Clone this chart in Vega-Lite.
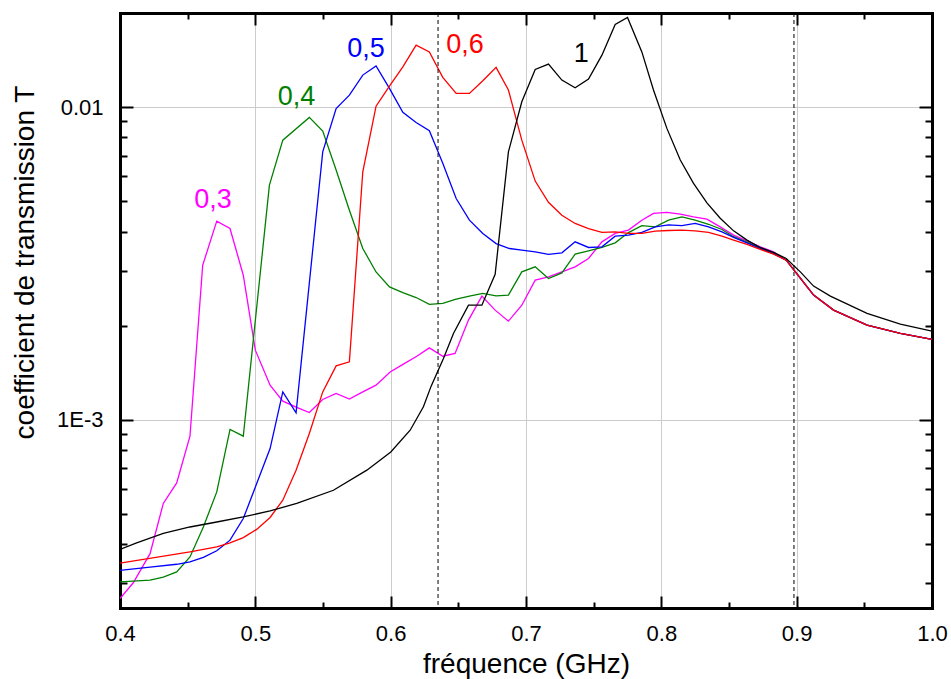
{
  "$schema": "https://vega.github.io/schema/vega-lite/v6.json",
  "width": 812,
  "height": 595,
  "autosize": "none",
  "padding": {"left": 120, "top": 13, "right": 19, "bottom": 71},
  "background": "white",
  "config": {
    "view": {"stroke": null},
    "font": "Liberation Sans",
    "axis": {
      "labelFont": "Liberation Sans",
      "titleFont": "Liberation Sans",
      "labelColor": "black",
      "titleColor": "black",
      "domainColor": "black",
      "domainWidth": 3,
      "domainCap": "square",
      "tickColor": "black",
      "tickWidth": 2,
      "gridColor": "#cccccc",
      "gridWidth": 1,
      "labelFlush": false,
      "labelOverlap": false,
      "titleFontWeight": "normal"
    }
  },
  "datasets": {
    "curves": [
      {"s":"0,3","f":0.4,"T":0.000268},{"s":"0,3","f":0.4098,"T":0.000301},{"s":"0,3","f":0.4222,"T":0.000373},{"s":"0,3","f":0.432,"T":0.00054},{"s":"0,3","f":0.4419,"T":0.000628},{"s":"0,3","f":0.4517,"T":0.000886},{"s":"0,3","f":0.4611,"T":0.00312},{"s":"0,3","f":0.4715,"T":0.00432},{"s":"0,3","f":0.4813,"T":0.00409},{"s":"0,3","f":0.4911,"T":0.0029},{"s":"0,3","f":0.5,"T":0.00167},{"s":"0,3","f":0.5109,"T":0.00129},{"s":"0,3","f":0.5203,"T":0.001147},{"s":"0,3","f":0.5306,"T":0.001095},{"s":"0,3","f":0.5399,"T":0.001055},{"s":"0,3","f":0.5498,"T":0.001161},{"s":"0,3","f":0.5597,"T":0.001214},{"s":"0,3","f":0.5695,"T":0.001164},{"s":"0,3","f":0.5794,"T":0.001228},{"s":"0,3","f":0.5892,"T":0.00129},{"s":"0,3","f":0.5996,"T":0.001422},{"s":"0,3","f":0.6094,"T":0.001506},{"s":"0,3","f":0.6193,"T":0.001597},{"s":"0,3","f":0.6286,"T":0.001698},{"s":"0,3","f":0.6385,"T":0.001597},{"s":"0,3","f":0.6476,"T":0.00163},{"s":"0,3","f":0.6575,"T":0.002083},{"s":"0,3","f":0.6674,"T":0.002486},{"s":"0,3","f":0.6772,"T":0.002242},{"s":"0,3","f":0.687,"T":0.002067},{"s":"0,3","f":0.6969,"T":0.002325},{"s":"0,3","f":0.7068,"T":0.002796},{"s":"0,3","f":0.7166,"T":0.002865},{"s":"0,3","f":0.7265,"T":0.002972},{"s":"0,3","f":0.7363,"T":0.003084},{"s":"0,3","f":0.7462,"T":0.003281},{"s":"0,3","f":0.7561,"T":0.003707},{"s":"0,3","f":0.7659,"T":0.003945},{"s":"0,3","f":0.7757,"T":0.004042},{"s":"0,3","f":0.7856,"T":0.004349},{"s":"0,3","f":0.7942,"T":0.004571},{"s":"0,3","f":0.8041,"T":0.004604},{"s":"0,3","f":0.814,"T":0.004546},{"s":"0,3","f":0.8238,"T":0.004457},{"s":"0,3","f":0.8337,"T":0.004382},{"s":"0,3","f":0.8435,"T":0.004139},{"s":"0,3","f":0.8534,"T":0.003896},{"s":"0,3","f":0.8633,"T":0.003736},{"s":"0,3","f":0.8731,"T":0.003574},{"s":"0,3","f":0.8829,"T":0.003445},{"s":"0,3","f":0.8923,"T":0.00324},{"s":"0,3","f":0.9027,"T":0.00284},{"s":"0,3","f":0.9125,"T":0.002504},{"s":"0,3","f":0.9273,"T":0.002242},{"s":"0,3","f":0.952,"T":0.002008},{"s":"0,3","f":0.9766,"T":0.001888},{"s":"0,3","f":1.0,"T":0.001807},

      {"s":"0,4","f":0.4,"T":0.000303},{"s":"0,4","f":0.4222,"T":0.000307},{"s":"0,4","f":0.432,"T":0.000314},{"s":"0,4","f":0.4419,"T":0.000326},{"s":"0,4","f":0.4517,"T":0.000364},{"s":"0,4","f":0.4616,"T":0.000454},{"s":"0,4","f":0.4715,"T":0.000588},{"s":"0,4","f":0.4813,"T":0.000931},{"s":"0,4","f":0.4911,"T":0.000886},{"s":"0,4","f":0.5104,"T":0.00563},{"s":"0,4","f":0.5203,"T":0.00784},{"s":"0,4","f":0.5399,"T":0.00927},{"s":"0,4","f":0.5498,"T":0.00838},{"s":"0,4","f":0.5597,"T":0.00629},{"s":"0,4","f":0.5695,"T":0.00468},{"s":"0,4","f":0.5794,"T":0.00353},{"s":"0,4","f":0.5892,"T":0.00297},{"s":"0,4","f":0.5991,"T":0.00266},{"s":"0,4","f":0.609,"T":0.00255},{"s":"0,4","f":0.6188,"T":0.00246},{"s":"0,4","f":0.6286,"T":0.00234},{"s":"0,4","f":0.6385,"T":0.002355},{"s":"0,4","f":0.6484,"T":0.00243},{"s":"0,4","f":0.6582,"T":0.002486},{"s":"0,4","f":0.6681,"T":0.002535},{"s":"0,4","f":0.6779,"T":0.00249},{"s":"0,4","f":0.687,"T":0.002504},{"s":"0,4","f":0.6969,"T":0.002972},{"s":"0,4","f":0.7068,"T":0.003084},{"s":"0,4","f":0.7166,"T":0.00283},{"s":"0,4","f":0.7265,"T":0.00295},{"s":"0,4","f":0.7363,"T":0.003386},{"s":"0,4","f":0.7462,"T":0.00347},{"s":"0,4","f":0.7561,"T":0.00356},{"s":"0,4","f":0.7659,"T":0.00368},{"s":"0,4","f":0.7757,"T":0.00397},{"s":"0,4","f":0.7856,"T":0.00418},{"s":"0,4","f":0.7955,"T":0.00414},{"s":"0,4","f":0.8053,"T":0.00435},{"s":"0,4","f":0.8152,"T":0.004457},{"s":"0,4","f":0.825,"T":0.00435},{"s":"0,4","f":0.8349,"T":0.00422},{"s":"0,4","f":0.8448,"T":0.00406},{"s":"0,4","f":0.8534,"T":0.00385},{"s":"0,4","f":0.8633,"T":0.0037},{"s":"0,4","f":0.8731,"T":0.00354},{"s":"0,4","f":0.8829,"T":0.00342},{"s":"0,4","f":0.8923,"T":0.00324},{"s":"0,4","f":0.9027,"T":0.00284},{"s":"0,4","f":0.9125,"T":0.002504},{"s":"0,4","f":0.9273,"T":0.002242},{"s":"0,4","f":0.952,"T":0.002008},{"s":"0,4","f":0.9766,"T":0.001888},{"s":"0,4","f":1.0,"T":0.001807},

      {"s":"0,5","f":0.4,"T":0.00033},{"s":"0,5","f":0.4222,"T":0.000338},{"s":"0,5","f":0.4419,"T":0.000345},{"s":"0,5","f":0.4517,"T":0.000351},{"s":"0,5","f":0.4616,"T":0.000363},{"s":"0,5","f":0.4715,"T":0.000381},{"s":"0,5","f":0.4813,"T":0.000412},{"s":"0,5","f":0.4911,"T":0.000483},{"s":"0,5","f":0.501,"T":0.000625},{"s":"0,5","f":0.5109,"T":0.000809},{"s":"0,5","f":0.5203,"T":0.001228},{"s":"0,5","f":0.5301,"T":0.001052},{"s":"0,5","f":0.5498,"T":0.00719},{"s":"0,5","f":0.5597,"T":0.0099},{"s":"0,5","f":0.5695,"T":0.01092},{"s":"0,5","f":0.5794,"T":0.01266},{"s":"0,5","f":0.5892,"T":0.01355},{"s":"0,5","f":0.5991,"T":0.01148},{"s":"0,5","f":0.609,"T":0.00962},{"s":"0,5","f":0.6188,"T":0.00893},{"s":"0,5","f":0.6286,"T":0.0084},{"s":"0,5","f":0.6385,"T":0.00661},{"s":"0,5","f":0.6484,"T":0.0051},{"s":"0,5","f":0.6582,"T":0.00435},{"s":"0,5","f":0.6681,"T":0.003945},{"s":"0,5","f":0.6779,"T":0.00366},{"s":"0,5","f":0.6878,"T":0.00353},{"s":"0,5","f":0.6969,"T":0.003487},{"s":"0,5","f":0.7068,"T":0.003445},{"s":"0,5","f":0.7166,"T":0.00338},{"s":"0,5","f":0.7265,"T":0.00342},{"s":"0,5","f":0.7363,"T":0.003707},{"s":"0,5","f":0.7462,"T":0.003557},{"s":"0,5","f":0.7561,"T":0.003574},{"s":"0,5","f":0.7659,"T":0.003867},{"s":"0,5","f":0.7757,"T":0.003896},{"s":"0,5","f":0.7856,"T":0.003974},{"s":"0,5","f":0.7955,"T":0.00414},{"s":"0,5","f":0.8053,"T":0.0042},{"s":"0,5","f":0.8152,"T":0.00418},{"s":"0,5","f":0.825,"T":0.004246},{"s":"0,5","f":0.8349,"T":0.00414},{"s":"0,5","f":0.8448,"T":0.00399},{"s":"0,5","f":0.8534,"T":0.00383},{"s":"0,5","f":0.8633,"T":0.00368},{"s":"0,5","f":0.8731,"T":0.00353},{"s":"0,5","f":0.8829,"T":0.0034},{"s":"0,5","f":0.8923,"T":0.00324},{"s":"0,5","f":0.9027,"T":0.00284},{"s":"0,5","f":0.9125,"T":0.002504},{"s":"0,5","f":0.9273,"T":0.002242},{"s":"0,5","f":0.952,"T":0.002008},{"s":"0,5","f":0.9766,"T":0.001888},{"s":"0,5","f":1.0,"T":0.001807},

      {"s":"0,6","f":0.4,"T":0.000348},{"s":"0,6","f":0.4517,"T":0.000378},{"s":"0,6","f":0.4715,"T":0.000392},{"s":"0,6","f":0.4813,"T":0.000404},{"s":"0,6","f":0.4911,"T":0.00042},{"s":"0,6","f":0.501,"T":0.000446},{"s":"0,6","f":0.5109,"T":0.000487},{"s":"0,6","f":0.5203,"T":0.000553},{"s":"0,6","f":0.5301,"T":0.00069},{"s":"0,6","f":0.5399,"T":0.000904},{"s":"0,6","f":0.5498,"T":0.001228},{"s":"0,6","f":0.5597,"T":0.001487},{"s":"0,6","f":0.5695,"T":0.001532},{"s":"0,6","f":0.5794,"T":0.00621},{"s":"0,6","f":0.5892,"T":0.01007},{"s":"0,6","f":0.5991,"T":0.01167},{"s":"0,6","f":0.609,"T":0.01345},{"s":"0,6","f":0.6188,"T":0.01579},{"s":"0,6","f":0.6286,"T":0.01502},{"s":"0,6","f":0.6385,"T":0.01245},{"s":"0,6","f":0.6484,"T":0.01106},{"s":"0,6","f":0.6582,"T":0.01106},{"s":"0,6","f":0.6681,"T":0.01214},{"s":"0,6","f":0.6779,"T":0.0134},{"s":"0,6","f":0.687,"T":0.01134},{"s":"0,6","f":0.6969,"T":0.00784},{"s":"0,6","f":0.7068,"T":0.0058},{"s":"0,6","f":0.7166,"T":0.00496},{"s":"0,6","f":0.7265,"T":0.00451},{"s":"0,6","f":0.7363,"T":0.004246},{"s":"0,6","f":0.7462,"T":0.00409},{"s":"0,6","f":0.7561,"T":0.003974},{"s":"0,6","f":0.7659,"T":0.00399},{"s":"0,6","f":0.7757,"T":0.003945},{"s":"0,6","f":0.7856,"T":0.003945},{"s":"0,6","f":0.7955,"T":0.00401},{"s":"0,6","f":0.8053,"T":0.00403},{"s":"0,6","f":0.8152,"T":0.004042},{"s":"0,6","f":0.825,"T":0.00402},{"s":"0,6","f":0.8349,"T":0.003974},{"s":"0,6","f":0.8448,"T":0.003867},{"s":"0,6","f":0.8534,"T":0.003755},{"s":"0,6","f":0.8633,"T":0.003637},{"s":"0,6","f":0.8731,"T":0.003506},{"s":"0,6","f":0.8829,"T":0.003387},{"s":"0,6","f":0.8923,"T":0.00324},{"s":"0,6","f":0.9027,"T":0.00284},{"s":"0,6","f":0.9125,"T":0.002504},{"s":"0,6","f":0.9273,"T":0.002242},{"s":"0,6","f":0.952,"T":0.002008},{"s":"0,6","f":0.9766,"T":0.001888},{"s":"0,6","f":1.0,"T":0.001807},

      {"s":"1","f":0.4,"T":0.000385},{"s":"1","f":0.4123,"T":0.000404},{"s":"1","f":0.432,"T":0.000433},{"s":"1","f":0.4517,"T":0.000454},{"s":"1","f":0.4715,"T":0.000471},{"s":"1","f":0.4911,"T":0.000489},{"s":"1","f":0.5109,"T":0.000511},{"s":"1","f":0.5306,"T":0.00054},{"s":"1","f":0.5577,"T":0.000595},{"s":"1","f":0.5824,"T":0.00069},{"s":"1","f":0.6001,"T":0.000789},{"s":"1","f":0.6144,"T":0.000926},{"s":"1","f":0.6242,"T":0.0011},{"s":"1","f":0.6299,"T":0.001281},{"s":"1","f":0.639,"T":0.001571},{"s":"1","f":0.6464,"T":0.001888},{"s":"1","f":0.6575,"T":0.002325},{"s":"1","f":0.6674,"T":0.002325},{"s":"1","f":0.6772,"T":0.00292},{"s":"1","f":0.687,"T":0.00719},{"s":"1","f":0.6969,"T":0.0104},{"s":"1","f":0.7068,"T":0.0132},{"s":"1","f":0.7166,"T":0.01373},{"s":"1","f":0.7265,"T":0.0122},{"s":"1","f":0.7363,"T":0.01153},{"s":"1","f":0.7462,"T":0.01229},{"s":"1","f":0.7561,"T":0.01466},{"s":"1","f":0.7659,"T":0.01839},{"s":"1","f":0.775,"T":0.01936},{"s":"1","f":0.7856,"T":0.01502},{"s":"1","f":0.7942,"T":0.01134},{"s":"1","f":0.8041,"T":0.00855},{"s":"1","f":0.814,"T":0.00677},{"s":"1","f":0.8238,"T":0.0057},{"s":"1","f":0.8337,"T":0.00494},{"s":"1","f":0.8435,"T":0.00441},{"s":"1","f":0.8534,"T":0.00402},{"s":"1","f":0.8633,"T":0.003755},{"s":"1","f":0.8731,"T":0.003557},{"s":"1","f":0.8829,"T":0.00343},{"s":"1","f":0.8923,"T":0.003281},{"s":"1","f":0.9027,"T":0.002972},{"s":"1","f":0.9125,"T":0.002676},{"s":"1","f":0.9249,"T":0.002486},{"s":"1","f":0.952,"T":0.002188},{"s":"1","f":0.9766,"T":0.002022},{"s":"1","f":1.0,"T":0.00192}
    ],
    "labels": [
      {"s":"0,3","label":"0,3","f":0.4687,"T":0.004753},
      {"s":"0,4","label":"0,4","f":0.5305,"T":0.01015},
      {"s":"0,5","label":"0,5","f":0.5818,"T":0.01445},
      {"s":"0,6","label":"0,6","f":0.655,"T":0.01489},
      {"s":"1","label":"1","f":0.7408,"T":0.01393}
    ],
    "marks": [
      {"f":0.635},
      {"f":0.898}
    ]
  },
  "resolve": {"axis": {"x": "independent", "y": "independent"}},
  "layer": [
    {
      "data": {"name": "curves"},
      "mark": {"type": "line", "strokeWidth": 1.3, "clip": true},
      "encoding": {
        "x": {
          "field": "f", "type": "quantitative",
          "scale": {"domain": [0.4, 1.0], "nice": false, "zero": false},
          "axis": {
            "orient": "bottom",
            "values": [0.4, 0.5, 0.6, 0.7, 0.8, 0.9, 1.0],
            "format": ".1f",
            "labelFontSize": 22,
            "labelPadding": 27,
            "tickSize": -12,
            "grid": true,
            "title": "fréquence (GHz)",
            "titleFontSize": 28,
            "titleBaseline": "alphabetic",
            "titleY": 64
          }
        },
        "y": {
          "field": "T", "type": "quantitative",
          "scale": {"type": "log", "domain": [0.00025, 0.02], "nice": false},
          "axis": {
            "orient": "left",
            "values": [0.001, 0.01],
            "labelExpr": "datum.value < 0.005 ? '1E-3' : '0.01'",
            "labelFontSize": 22,
            "labelPadding": 30,
            "tickSize": -13,
            "grid": true,
            "title": "coefficient de transmission T",
            "titleFontSize": 28,
            "titleBaseline": "alphabetic",
            "titleX": -87,
            "titleY": 249
          }
        },
        "color": {
          "field": "s", "type": "nominal",
          "scale": {"domain": ["0,3", "0,4", "0,5", "0,6", "1"], "range": ["#ff00ff", "#008000", "#0000ff", "#ff0000", "#000000"]},
          "legend": null
        }
      }
    },
    {
      "data": {"name": "labels"},
      "mark": {"type": "text", "fontSize": 27, "font": "Liberation Sans", "align": "center", "baseline": "alphabetic"},
      "encoding": {
        "x": {
          "field": "f", "type": "quantitative",
          "axis": {"orient": "top", "values": [0.4, 0.5, 0.6, 0.7, 0.8, 0.9, 1.0], "labels": false, "tickSize": -12, "grid": false, "title": null}
        },
        "y": {
          "field": "T", "type": "quantitative",
          "axis": {"orient": "right", "values": [0.001, 0.01], "labels": false, "tickSize": -13, "grid": false, "title": null}
        },
        "text": {"field": "label"},
        "color": {"field": "s", "type": "nominal", "legend": null}
      }
    },
    {
      "data": {"name": "labels"},
      "mark": {"type": "point", "opacity": 0},
      "encoding": {
        "x": {
          "field": "f", "type": "quantitative",
          "axis": {"orient": "bottom", "values": [0.45, 0.55, 0.65, 0.75, 0.85, 0.95], "labels": false, "domain": false, "tickSize": -6, "grid": false, "title": null}
        },
        "y": {
          "field": "T", "type": "quantitative",
          "axis": {"orient": "left", "values": [0.0003, 0.0004, 0.0005, 0.0006, 0.0007, 0.0008, 0.0009, 0.002, 0.003, 0.004, 0.005, 0.006, 0.007, 0.008, 0.009], "labels": false, "domain": false, "tickSize": -7, "grid": false, "title": null}
        }
      }
    },
    {
      "data": {"name": "labels"},
      "mark": {"type": "point", "opacity": 0},
      "encoding": {
        "x": {
          "field": "f", "type": "quantitative",
          "axis": {"orient": "top", "values": [0.45, 0.55, 0.65, 0.75, 0.85, 0.95], "labels": false, "domain": false, "tickSize": -6, "grid": false, "title": null}
        },
        "y": {
          "field": "T", "type": "quantitative",
          "axis": {"orient": "right", "values": [0.0003, 0.0004, 0.0005, 0.0006, 0.0007, 0.0008, 0.0009, 0.002, 0.003, 0.004, 0.005, 0.006, 0.007, 0.008, 0.009], "labels": false, "domain": false, "tickSize": -7, "grid": false, "title": null}
        }
      }
    },
    {
      "data": {"name": "marks"},
      "mark": {"type": "rule", "color": "black", "strokeWidth": 1, "strokeDash": [4, 3]},
      "encoding": {
        "x": {"field": "f", "type": "quantitative", "axis": null}
      }
    }
  ]
}
